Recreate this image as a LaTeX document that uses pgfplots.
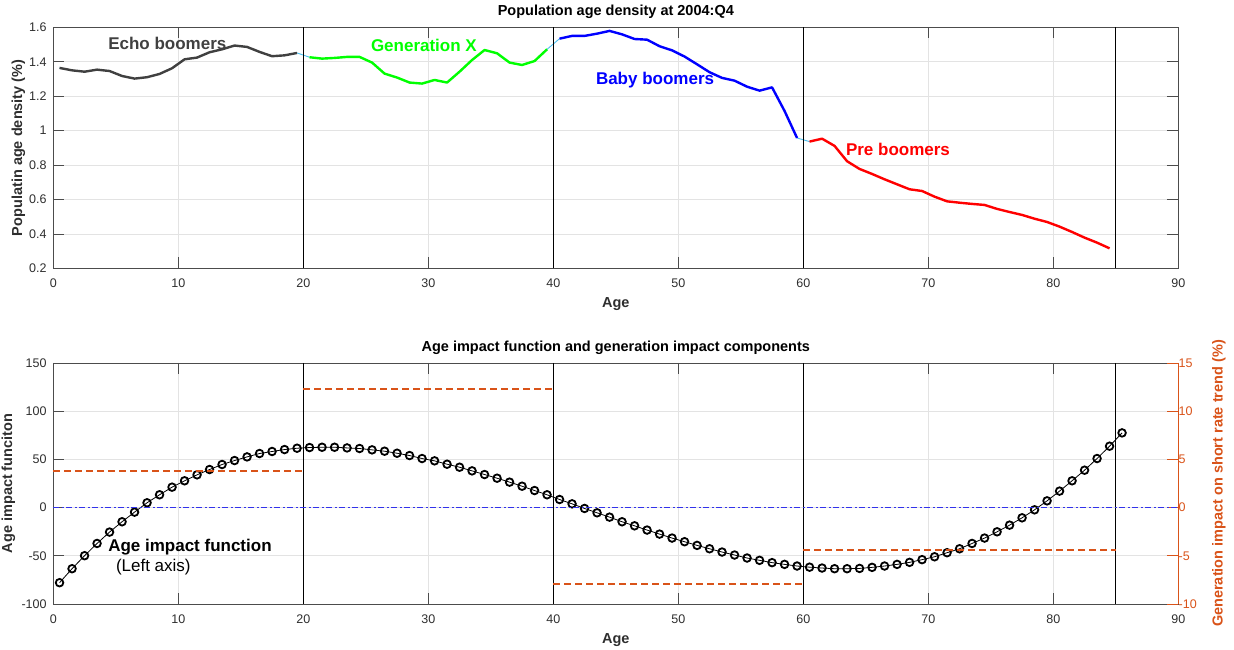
\documentclass[border=0pt]{standalone}
\usepackage{fontspec}
\setmainfont{Liberation Sans}
\usepackage{pgfplots}
\usepackage{pgfplotstable}
\pgfplotsset{compat=1.18}

\definecolor{axgray}{gray}{0.3}
\definecolor{gridgray}{gray}{0.89}
\definecolor{mlorange}{RGB}{217,83,25}
\definecolor{lblue}{rgb}{0.3,0.75,0.93}
\definecolor{echo}{gray}{0.25}
\definecolor{zeroblue}{RGB}{50,50,235}

\pgfplotstableread{
age dens
0.5 1.364
1.5 1.350
2.5 1.342
3.5 1.354
4.5 1.346
5.5 1.317
6.5 1.302
7.5 1.310
8.5 1.329
9.5 1.362
10.5 1.414
11.5 1.424
12.5 1.455
13.5 1.472
14.5 1.494
15.5 1.486
16.5 1.457
17.5 1.432
18.5 1.437
19.5 1.451
20.5 1.426
21.5 1.418
22.5 1.422
23.5 1.428
24.5 1.428
25.5 1.395
26.5 1.331
27.5 1.308
28.5 1.279
29.5 1.273
30.5 1.294
31.5 1.279
32.5 1.342
33.5 1.410
34.5 1.468
35.5 1.449
36.5 1.395
37.5 1.381
38.5 1.404
39.5 1.472
40.5 1.534
41.5 1.550
42.5 1.550
43.5 1.563
44.5 1.579
45.5 1.559
46.5 1.532
47.5 1.528
48.5 1.490
49.5 1.466
50.5 1.430
51.5 1.385
52.5 1.339
53.5 1.306
54.5 1.290
55.5 1.255
56.5 1.232
57.5 1.251
58.5 1.114
59.5 0.957
60.5 0.936
61.5 0.953
62.5 0.911
63.5 0.822
64.5 0.777
65.5 0.748
66.5 0.717
67.5 0.688
68.5 0.659
69.5 0.649
70.5 0.616
71.5 0.589
72.5 0.581
73.5 0.574
74.5 0.568
75.5 0.545
76.5 0.527
77.5 0.510
78.5 0.488
79.5 0.469
80.5 0.442
81.5 0.411
82.5 0.378
83.5 0.349
84.5 0.316
}\densdata

\pgfplotstableread{
age aif
0.5 -77.9
1.5 -63.4
2.5 -49.9
3.5 -37.2
4.5 -25.4
5.5 -14.7
6.5 -4.7
7.5 5.0
8.5 13.3
9.5 21.2
10.5 27.8
11.5 34.0
12.5 39.5
13.5 44.7
14.5 48.8
15.5 52.6
16.5 56.1
17.5 58.2
18.5 60.2
19.5 61.6
20.5 62.3
21.5 62.6
22.5 62.6
23.5 61.9
24.5 61.3
25.5 59.9
26.5 58.5
27.5 56.4
28.5 54.0
29.5 50.9
30.5 48.5
31.5 45.0
32.5 41.9
33.5 38.1
34.5 34.3
35.5 30.5
36.5 26.4
37.5 22.2
38.5 17.7
39.5 13.3
40.5 8.4
41.5 3.9
42.5 -0.9
43.5 -5.4
44.5 -9.9
45.5 -14.7
46.5 -18.9
47.5 -23.3
48.5 -27.5
49.5 -31.6
50.5 -35.4
51.5 -39.2
52.5 -42.7
53.5 -46.1
54.5 -49.2
55.5 -52.3
56.5 -54.7
57.5 -57.1
58.5 -58.9
59.5 -60.6
60.5 -61.8
61.5 -62.7
62.5 -63.4
63.5 -63.4
64.5 -63.1
65.5 -62.0
66.5 -60.6
67.5 -58.9
68.5 -56.8
69.5 -54.0
70.5 -51.0
71.5 -46.8
72.5 -42.7
73.5 -37.2
74.5 -31.6
75.5 -25.1
76.5 -18.2
77.5 -10.6
78.5 -2.3
79.5 7.0
80.5 17.1
81.5 27.8
82.5 38.8
83.5 50.9
84.5 63.7
85.5 77.5
}\aifdata

\pgfplotsset{
  mlaxis/.style={
    scale only axis, width=1125pt, height=241pt,
    xmin=0, xmax=90, xtick={0,10,20,30,40,50,60,70,80,90},
    tick align=inside, major tick length=11pt,
    axis line style={axgray, line width=0.7pt},
    every tick/.style={axgray, line width=0.7pt},
    tick label style={font=\fontsize{12.5}{14}\selectfont, text=black!82},
    /pgf/number format/assume math mode=true,
    xticklabel style={anchor=base, inner sep=0pt, yshift=-19.5pt},
    yticklabel style={anchor=east, inner sep=0pt, xshift=-6.5pt},
    title style={font=\bfseries\fontsize{14.5}{16}\selectfont, at={(axis description cs:0.5,1)}, anchor=base, yshift=5.3pt, inner sep=0pt},
    xlabel style={font=\bfseries\fontsize{14.5}{16}\selectfont, text=black!82, at={(axis description cs:0.5,0)}, anchor=base, yshift=-39.4pt, inner sep=0pt},
    clip=false,
  },
  gendash/.style={draw=mlorange, line width=1.8pt, dash pattern=on 7pt off 4pt},
}

\begin{document}
\begin{tikzpicture}
\useasboundingbox (0,0) rectangle (1234pt,650pt);

% ---------------- top axis ----------------
\begin{axis}[mlaxis,
  at={(53.3pt,381.7pt)}, anchor=south west,
  ymin=0.2, ymax=1.6, ytick={0.2,0.4,0.6,0.8,1,1.2,1.4,1.6},
  xtick pos=both, ytick pos=both,
  grid=major, major grid style={gridgray, line width=0.6pt},
  title={Population age density at 2004:Q4},
  xlabel={Age},
  ylabel={Populatin age density (\%)},
  ylabel style={font=\bfseries\fontsize{14.5}{16}\selectfont, text=black!82, at={(axis description cs:-0.0278,0.5)}, anchor=base, inner sep=0pt},
]
\addplot[lblue, line width=0.9pt] table[x=age,y=dens] {\densdata};
\addplot[echo, line width=2.4pt, line join=round, restrict x to domain=0:20] table[x=age,y=dens] {\densdata};
\addplot[green, line width=2.4pt, line join=round, restrict x to domain=20:40] table[x=age,y=dens] {\densdata};
\addplot[blue, line width=2.4pt, line join=round, restrict x to domain=40:60] table[x=age,y=dens] {\densdata};
\addplot[red, line width=2.4pt, line join=round, restrict x to domain=60:85] table[x=age,y=dens] {\densdata};
\addplot[black, line width=1.1pt] coordinates {(20,0.2) (20,1.6)};
\addplot[black, line width=1.1pt] coordinates {(40,0.2) (40,1.6)};
\addplot[black, line width=1.1pt] coordinates {(60,0.2) (60,1.6)};
\addplot[black, line width=1.1pt] coordinates {(85,0.2) (85,1.6)};
\node[anchor=west, inner sep=0pt, text=echo, font=\bfseries\fontsize{17}{19}\selectfont] at (axis cs:4.38,1.509) {Echo boomers};
\node[anchor=west, inner sep=0pt, text=green, font=\bfseries\fontsize{17}{19}\selectfont] at (axis cs:25.4,1.497) {Generation X};
\node[anchor=west, inner sep=0pt, text=blue, font=\bfseries\fontsize{17}{19}\selectfont] at (axis cs:43.4,1.294) {Baby boomers};
\node[anchor=west, inner sep=0pt, text=red, font=\bfseries\fontsize{17}{19}\selectfont] at (axis cs:63.4,0.893) {Pre boomers};
\end{axis}

% ---------------- bottom axis (left) ----------------
\begin{axis}[mlaxis,
  at={(53.3pt,46pt)}, anchor=south west,
  ymin=-100, ymax=150, ytick={-100,-50,0,50,100,150},
  xtick pos=both, ytick pos=left,
  grid=major, major grid style={gridgray, line width=0.6pt},
  title={Age impact function and generation impact components},
  xlabel={Age},
  ylabel={Age impact funciton},
  ylabel style={font=\bfseries\fontsize{14.5}{16}\selectfont, text=black!82, at={(axis description cs:-0.0367,0.5)}, anchor=base, inner sep=0pt},
]
\addplot[black, line width=0.8pt, mark=o, mark size=3.8pt, mark options={line width=1.8pt}] table[x=age,y=aif] {\aifdata};
\addplot[black, line width=1.1pt] coordinates {(20,-100) (20,150)};
\addplot[black, line width=1.1pt] coordinates {(40,-100) (40,150)};
\addplot[black, line width=1.1pt] coordinates {(60,-100) (60,150)};
\addplot[black, line width=1.1pt] coordinates {(85,-100) (85,150)};
\node[anchor=west, inner sep=0pt, text=black, font=\bfseries\fontsize{17}{19}\selectfont] at (axis cs:4.38,-40.9) {Age impact function};
\node[anchor=west, inner sep=0pt, text=black, font=\fontsize{17}{19}\selectfont] at (axis cs:5.0,-61.7) {(Left axis)};
\end{axis}

% ---------------- bottom axis (right) ----------------
\begin{axis}[mlaxis,
  at={(53.3pt,46pt)}, anchor=south west,
  axis x line=none, axis y line*=right,
  ymin=-10, ymax=15, ytick={-10,-5,0,5,10,15},
  axis line style={mlorange, line width=0.8pt},
  every tick/.style={mlorange, line width=0.8pt},
  yticklabel style={anchor=west, inner sep=0pt, xshift=6.7pt, text=mlorange},
  ylabel={Generation impact on short rate trend (\%)},
  ylabel style={font=\bfseries\fontsize{14.5}{16}\selectfont, text=mlorange, at={(axis description cs:1.0393,0.5)}, anchor=base, inner sep=0pt},
]
\addplot[draw=zeroblue, line width=1.4pt, dash pattern=on 6pt off 2.5pt on 2pt off 2.5pt] coordinates {(0,0) (90,0)};
\addplot[gendash] coordinates {(0,3.8) (20,3.8)};
\addplot[gendash] coordinates {(20,12.27) (40,12.27)};
\addplot[gendash] coordinates {(40,-7.96) (60,-7.96)};
\addplot[gendash] coordinates {(60,-4.37) (85,-4.37)};
\end{axis}
\end{tikzpicture}
\end{document}
